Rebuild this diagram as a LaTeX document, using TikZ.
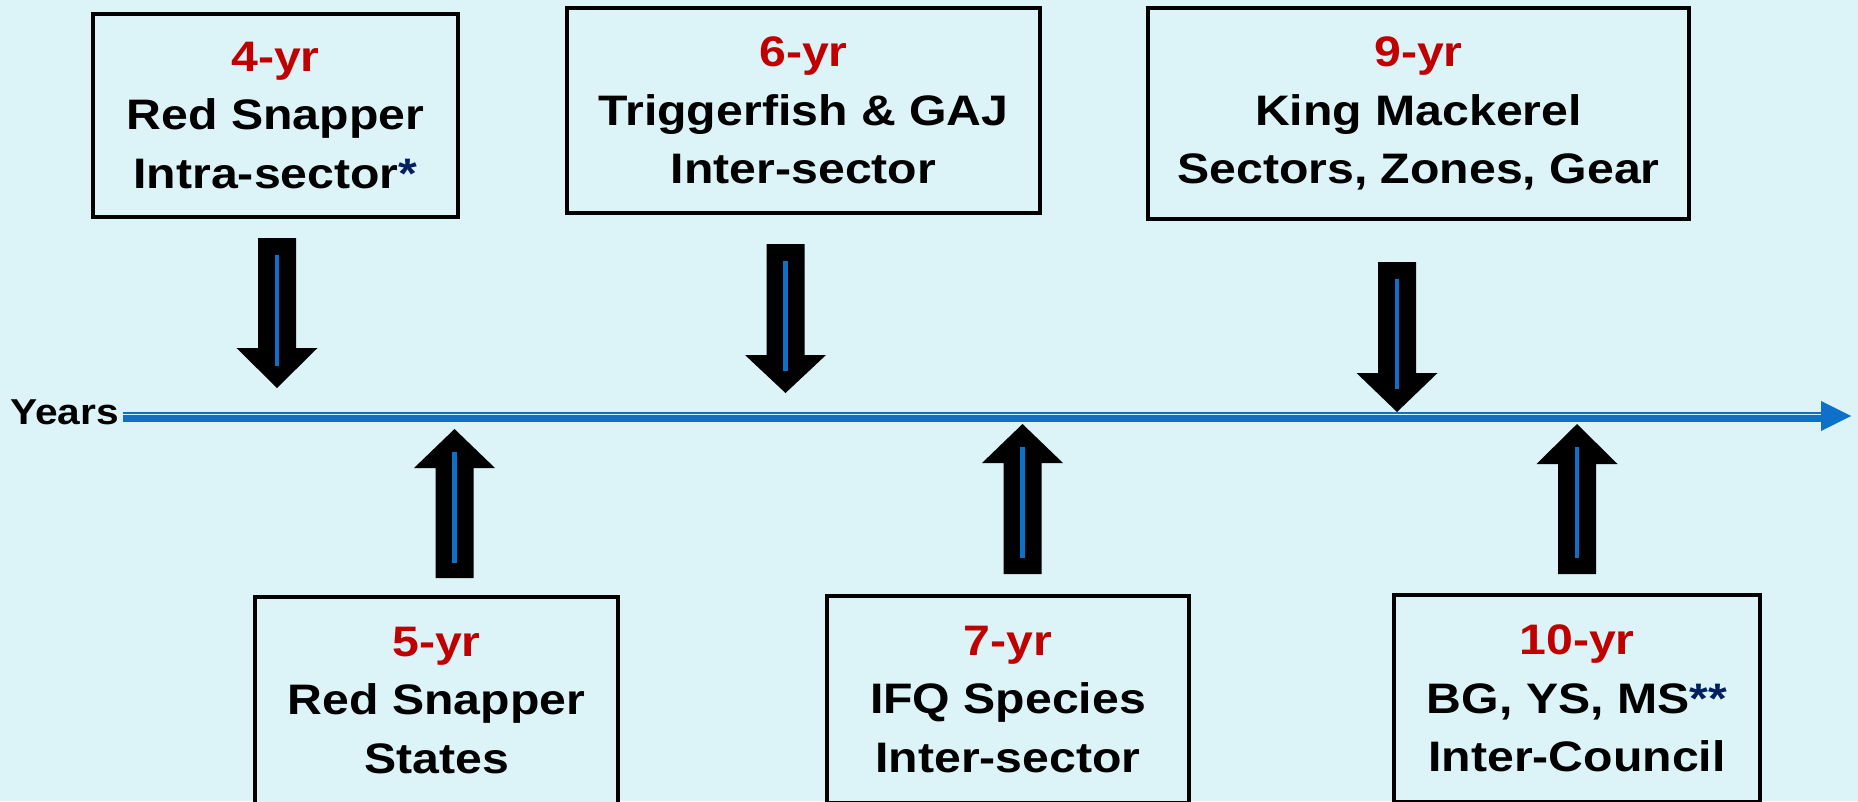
\documentclass[tikz,border=0pt]{standalone}
\usepackage{fontspec}
\setmainfont{Liberation Sans}[FakeStretch=1.13]
\usepackage{xcolor}
\usetikzlibrary{positioning}

\definecolor{bgcyan}{RGB}{220,244,248}
\definecolor{yrred}{RGB}{192,0,0}
\definecolor{lineblue}{RGB}{14,112,200}
\definecolor{starblue}{RGB}{0,32,96}

\tikzset{
  yearbox/.style={draw=black, line width=3pt, fill=bgcyan, align=center, inner sep=0pt,
    font=\bfseries\fontsize{32}{44}\selectfont},
  blockarrow/.style={fill=black},
  innerline/.style={draw=lineblue, line width=3.6pt},
  timeline/.style={draw=lineblue}
}
\newcommand{\yr}[1]{{\color{yrred}#1}}
\newcommand{\stars}[1]{{\color{starblue}#1}}

\begin{document}
\begin{tikzpicture}[x=0.75pt,y=0.75pt,yscale=-1,xscale=1]

\useasboundingbox (0,0) rectangle (1858,801);
\clip (0,0) rectangle (1858,801);
\fill[bgcyan] (0,0) rectangle (1858,801);

% boxes above the time line
\node[yearbox, minimum width=273.75pt, minimum height=152.25pt] (b4yr) at (275.5,115.5)
  {\yr{4-yr}\\Red Snapper\\Intra-sector\stars{*}};
\node[yearbox, minimum width=354.75pt, minimum height=153.75pt] (b6yr) at (803.5,110.5)
  {\yr{6-yr}\\Triggerfish \& GAJ\\Inter-sector};
\node[yearbox, minimum width=405.75pt, minimum height=158.25pt] (b9yr) at (1418.5,113.5)
  {\yr{9-yr}\\King Mackerel\\Sectors, Zones, Gear};

% boxes below the time line
\node[yearbox, minimum width=272.25pt, minimum height=155.25pt] (b5yr) at (436.5,700.5)
  {\yr{5-yr}\\Red Snapper\\States};
\node[yearbox, minimum width=271.5pt, minimum height=155.25pt] (b7yr) at (1008,699.5)
  {\yr{7-yr}\\IFQ Species\\Inter-sector};
\node[yearbox, minimum width=274.5pt, minimum height=155.25pt] (b10yr) at (1577,698.5)
  {\yr{10-yr}\\BG, YS, MS\stars{**}\\Inter-Council};

% time line
\node[anchor=base west, inner sep=0pt, font=\bfseries\fontsize{27}{30}\selectfont] (years) at (10,424) {Years};
\coordinate (tlstart) at (123,416);
\coordinate (tlend) at (1851,416);
\draw[timeline, line width=5.25pt] ([yshift=1.875pt]tlstart) -- ([xshift=-22pt,yshift=1.875pt]tlend);
\draw[timeline, line width=1.5pt] ([yshift=-2.625pt]tlstart) -- ([xshift=-22pt,yshift=-2.625pt]tlend);
\fill[lineblue] (tlend) -- ++(-30,-15) -- ++(0,30) -- cycle;

% arrows down
\fill[blockarrow] (258,238) -- (296,238) -- (296,348) -- (317.5,348) -- (277,388) -- (236.5,348) -- (258,348) -- cycle;
\draw[innerline] (277,255) -- (277,366);
\fill[blockarrow] (766.5,244) -- (804.5,244) -- (804.5,355) -- (826,355) -- (785.5,393) -- (745,355) -- (766.5,355) -- cycle;
\draw[innerline] (785.5,261) -- (785.5,371);
\fill[blockarrow] (1378,262) -- (1416,262) -- (1416,373) -- (1437.5,373) -- (1397,412) -- (1356.5,373) -- (1378,373) -- cycle;
\draw[innerline] (1397,279) -- (1397,389);

% arrows up
\fill[blockarrow] (435.5,578) -- (473.5,578) -- (473.5,468) -- (495,468) -- (454.5,429) -- (414,468) -- (435.5,468) -- cycle;
\draw[innerline] (454.5,452) -- (454.5,563);
\fill[blockarrow] (1003.5,574) -- (1041.5,574) -- (1041.5,463) -- (1063,463) -- (1022.5,424) -- (982,463) -- (1003.5,463) -- cycle;
\draw[innerline] (1022.5,447) -- (1022.5,558);
\fill[blockarrow] (1558,574) -- (1596,574) -- (1596,464) -- (1617.5,464) -- (1577,424) -- (1536.5,464) -- (1558,464) -- cycle;
\draw[innerline] (1577,447) -- (1577,558);

\end{tikzpicture}
\end{document}
